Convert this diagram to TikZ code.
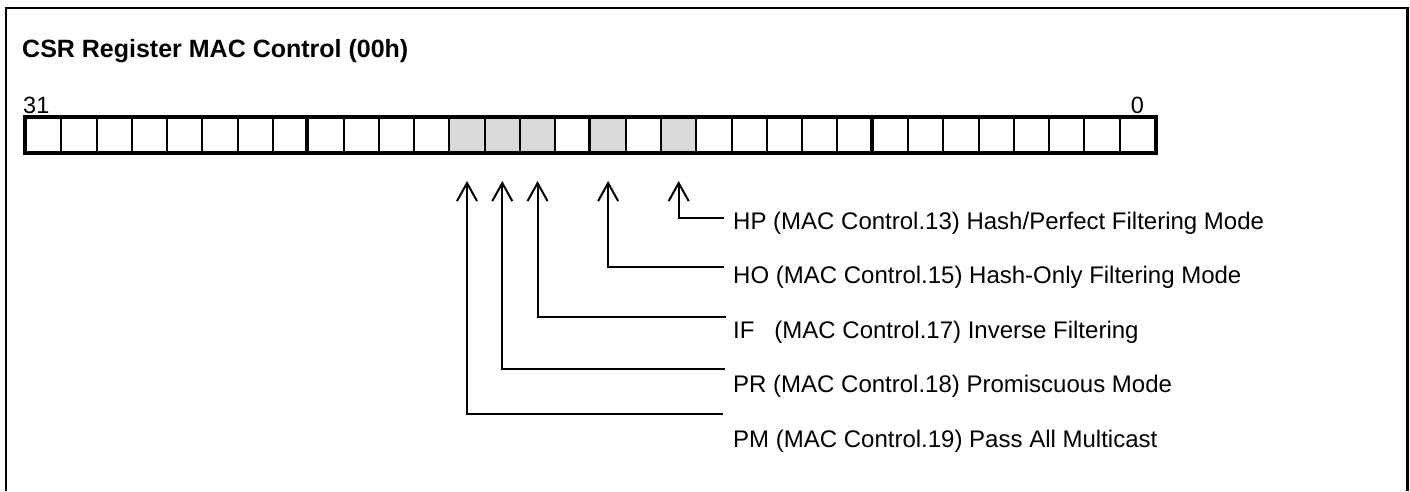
\documentclass[tikz,border=0pt]{standalone}
\usepackage{fontspec}
\setmainfont{Liberation Sans}
\usetikzlibrary{arrows.meta,calc}
\tikzset{
  bitcell/.style={draw, line width=2pt, minimum width=35.28pt, minimum height=34pt, inner sep=0pt, anchor=west},
  flag/.style={line width=2pt, -{Straight Barb[length=18pt,width=20pt,line width=2pt]}},
  flaglabel/.style={anchor=west, inner sep=0pt, font=\fontsize{24}{28}\selectfont},
  bitnum/.style={inner sep=0pt, font=\fontsize{23.5}{28}\selectfont},
}
\begin{document}
\begin{tikzpicture}[x=1pt,y=-1pt]
    \useasboundingbox (0,0) rectangle (1410,491);
    \draw[line width=2.5pt] (6,491) -- (6,8) -- (1407.5,8) -- (1407.5,491);
    \node[anchor=base west, inner sep=0pt, font=\fontsize{25}{30}\selectfont\bfseries] (title) at (22,57) {CSR Register MAC Control (00h)};
    % register, bit 31 on the left
    \foreach \b in {19,18,17,15,13}
        \fill[black!15] ({25+(31-\b)*35.28},118) rectangle ++(35.28,34);
    \foreach \b in {0,...,31}
        \node[bitcell] (b\b) at ({25+(31-\b)*35.28},135) {};
    \foreach \b in {23,15,7}
        \draw[line width=3.5pt] (b\b.north west) -- (b\b.south west);
    \draw[line width=4pt] (b31.north west) rectangle (b0.south east);
    \node[bitnum, anchor=base west] (msb) at (23,113) {31};
    \node[bitnum, anchor=base] (lsb) at (b0 |- 0,113) {0};
    % flag labels
    \node[flaglabel] (hp) at (733,223) {HP (MAC Control.13) Hash/Perfect Filtering Mode};
    \node[flaglabel] (ho) at (733,277) {HO (MAC Control.15) Hash-Only Filtering Mode};
    \node[flaglabel] (if) at (733,332) {IF\hspace{0.83em}(MAC Control.17) Inverse Filtering};
    \node[flaglabel] (pr) at (733,386) {PR (MAC Control.18) Promiscuous Mode};
    \node[flaglabel] (pm) at (733,441) {PM (MAC Control.19) Pass All Multicast};
    \coordinate (hpend) at (724,218);
    \coordinate (hoend) at (724,267);
    \coordinate (ifend) at (726,317);
    \coordinate (prend) at (725,369);
    \coordinate (pmend) at (723,414);
    \draw[flag] (hpend) -| ($(b13.south)+(0,28)$);
    \draw[flag] (hoend) -| ($(b15.south)+(0,28)$);
    \draw[flag] (ifend) -| ($(b17.south)+(0,28)$);
    \draw[flag] (prend) -| ($(b18.south)+(0,28)$);
    \draw[flag] (pmend) -| ($(b19.south)+(0,28)$);
\end{tikzpicture}
\end{document}
